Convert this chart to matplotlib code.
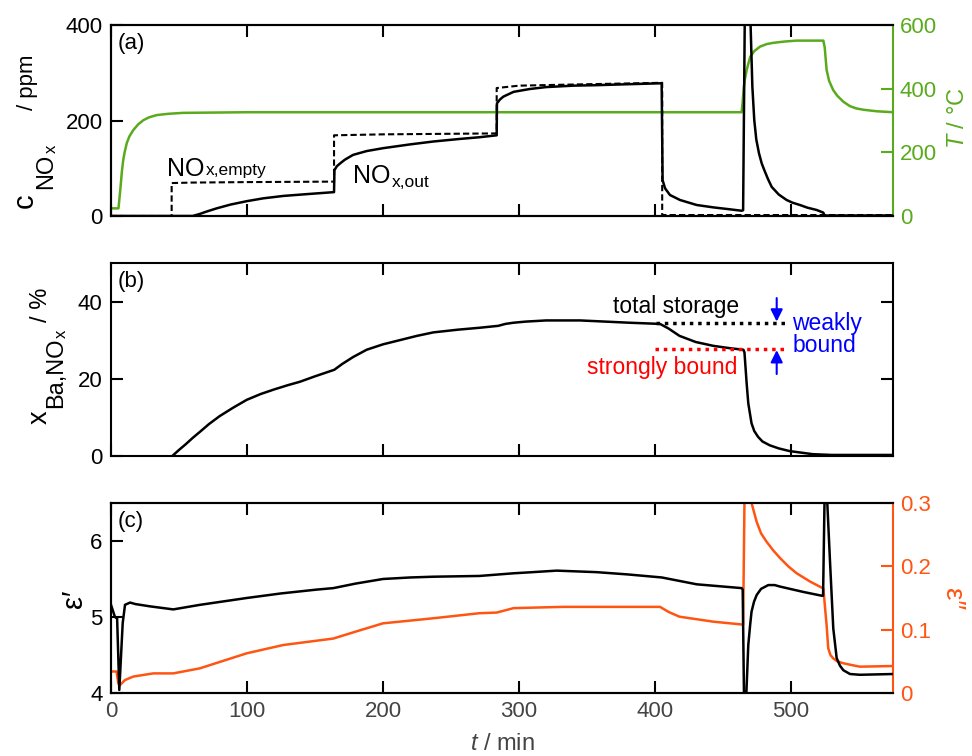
import numpy as np
import matplotlib
matplotlib.use('Agg')
import matplotlib.pyplot as plt

# ---- data ----
# (a) temperature, right axis
t_T = [0, 5.5, 7, 8, 9, 10, 11.6, 13.5, 16.4, 20, 23.8, 28, 33.6, 42, 53, 100, 463.7,
       464.5, 465.2, 466, 467.5, 470, 473, 477.2, 482, 487, 495, 504, 523.8, 524.8,
       526.2, 528, 531, 534, 538.5, 543.4, 548, 553, 563, 575]
T_C = [24, 24, 90, 140, 176, 200, 229, 250, 270, 288, 301, 310, 317, 321, 324, 326, 326,
       360, 400, 427, 460, 500, 518, 532, 540, 544, 548, 551, 551, 530,
       459, 425, 396, 378, 359, 345, 338, 334, 329, 326]

# (a) NOx empty reactor (dashed)
t_empty = [0, 44.6, 44.6, 60, 100, 164, 164, 200, 283.6, 283.6, 300, 350, 405.3, 405.3, 575]
c_empty = [0, 0, 69, 70, 71, 72, 169, 171, 173, 268, 273, 276, 279, 2, 2]

# (a) NOx outlet (solid)
t_out = [0, 60, 65, 70, 77.7, 88, 99.8, 112, 126.7, 145, 164, 164.3, 166, 168.4, 172, 178,
         188, 200, 220, 237, 255, 271, 283.6, 283.8, 286, 288.5, 296, 308, 320, 340, 357,
         380, 404.9, 405.6, 407.4, 411, 418.4, 430.7, 443, 455, 463.7, 464.8, 467.2, 470.3,
         471.6, 473, 474.5, 476.5, 478.5, 480.4, 483, 485.8, 491, 496.8, 501, 506.6, 512,
         518.9, 523.8, 524.6, 540, 575]
c_out = [0, 0, 4, 9, 16, 24, 31, 37, 42, 46, 50, 96, 104, 110, 118, 128,
         136, 142, 150, 156, 161, 165, 169, 236, 244, 250, 260, 266, 270, 273, 274,
         276, 278, 75, 58, 44, 33.5, 23, 18, 14, 11, 12, 800, 400,
         271, 201, 160, 131, 110, 96, 78, 61, 45, 33.5, 28, 23, 17.5,
         12.6, 7, 1, 1, 1]

# (b) NOx storage on Ba
t_x = [45.3, 50, 55, 60, 65.4, 72, 80, 90, 99.8, 110, 120, 130, 139, 150, 164.2, 170, 178,
       188, 200, 212.5, 225, 237, 255, 271, 284.8, 290, 295.8, 305, 320, 345, 381.6, 403.7,
       410, 418, 430, 443, 455, 465, 465.8, 467.4, 468.6, 471, 473, 475.8, 479, 484.4, 491,
       499, 516, 530, 575]
x_st = [0, 1.5, 3, 4.6, 6.2, 8.2, 10.3, 12.5, 14.5, 16, 17.2, 18.3, 19.2, 20.6, 22.3, 23.8,
        25.6, 27.5, 28.9, 30, 31.1, 32, 32.7, 33.2, 33.7, 34.2, 34.5, 34.8, 35.1, 35.1, 34.5,
        34.2, 33, 31.1, 29.5, 28.5, 27.9, 27.5, 26.8, 18.8, 13.6, 8.4, 6.4, 4.9, 3.7, 2.7,
        1.9, 1.2, 0.4, 0.2, 0.2]
total_storage = 34.4
strongly_bound = 27.7

# (c) permittivity, real part (left) and imaginary part (right)
t_e1 = [0, 2.9, 4.5, 6.1, 8.6, 10.3, 14, 18, 28.7, 45.8, 65.4, 99.8, 125, 151, 163.5, 180,
        200, 220, 237, 271, 296, 310, 327.7, 357, 380, 405, 430.7, 463.7, 464.5, 465.9,
        467.2, 468.6, 470, 471, 472.8, 474.8, 478, 483.3, 488, 492, 509, 522.6, 523.6,
        525.4, 526.7, 528.7, 531.1, 533.6, 536, 538.5, 543.4, 550.7, 575]
eps1 = [5.16, 5.0, 4.98, 4.04, 4.92, 5.16, 5.19, 5.17, 5.14, 5.10, 5.16, 5.25, 5.31, 5.36,
        5.38, 5.44, 5.50, 5.52, 5.53, 5.54, 5.575, 5.59, 5.61, 5.59, 5.56, 5.52, 5.43, 5.38,
        5.36, 3.3, 4.0, 4.63, 4.9, 5.07, 5.2, 5.29, 5.37, 5.42, 5.42, 5.40, 5.33, 5.28,
        5.28, 7.4, 6.5, 5.73, 4.85, 4.46, 4.36, 4.30, 4.25, 4.24, 4.25]

t_e2 = [0, 4.1, 5.4, 6.6, 10.3, 16.4, 31.1, 45.8, 65.4, 99.8, 126.7, 163.5, 180, 200, 237,
        271, 283.6, 296, 332.6, 403.7, 410, 418, 443, 464.8, 466, 471, 474.8, 478, 482, 487,
        492, 498, 504.2, 514, 523.8, 526.2, 527.4, 529, 531, 534, 538.5, 545, 550.7, 575]
eps2 = [0.034, 0.034, 0.015, 0.0126, 0.0205, 0.026, 0.031, 0.031, 0.039, 0.0627, 0.0758,
        0.086, 0.097, 0.110, 0.118, 0.126, 0.127, 0.134, 0.136, 0.136, 0.128, 0.1205,
        0.1126, 0.108, 0.34, 0.30, 0.270, 0.252, 0.239, 0.225, 0.213, 0.200, 0.189, 0.176,
        0.165, 0.107, 0.0706, 0.060, 0.0548, 0.050, 0.047, 0.044, 0.0416, 0.0426]

GREEN = '#5AAA1E'
ORANGE = '#FF5512'
GRAY = '#444444'
FW, FH = 972, 756

plt.rcParams['font.family'] = ['Liberation Sans', 'DejaVu Sans']
plt.rcParams['font.size'] = 16
plt.rcParams['mathtext.fontset'] = 'custom'
plt.rcParams['mathtext.rm'] = 'Liberation Sans'
plt.rcParams['mathtext.it'] = 'Liberation Sans:italic'
plt.rcParams['mathtext.bf'] = 'Liberation Sans:bold'
plt.rcParams['axes.linewidth'] = 1.5


def style(ax, right=True):
    ax.tick_params(which='major', direction='in', length=8.5, width=1.5,
                   top=True, right=right, pad=6, labelsize=16)
    ax.set_xlim(0, 575)
    ax.set_xticks([0, 100, 200, 300, 400, 500])


def vlabel(pieces, color='black'):
    # rotated label built from pieces: (text, size, baseline x px, start y px)
    for s, size, xb, y0 in pieces:
        fig.text(xb / FW, 1 - y0 / FH, s, fontsize=size, rotation=90,
                 rotation_mode='anchor', ha='left', va='baseline', color=color)


def sublabel(ax, x, y, main, sub, dy, size=18, subsize=12.5):
    ax.text(x, y, main, fontsize=size, ha='left', va='baseline')
    ax.annotate(sub, xy=(x, y), xytext=(28, dy), textcoords='offset points',
                fontsize=subsize, ha='left', va='baseline')


fig = plt.figure(figsize=(9.72, 7.56), dpi=100)
L, W = 0.1142, 0.8045
ax_a = fig.add_axes([L, 0.7143, W, 0.2526])
ax_b = fig.add_axes([L, 0.3972, W, 0.2549])
ax_c = fig.add_axes([L, 0.0833, W, 0.2514])

# ---- (a) ----
style(ax_a, right=False)
ax_a.plot(t_empty, c_empty, color='black', lw=1.5, ls=(0, (3, 1.5)))
ax_a.plot(t_out, c_out, color='black', lw=1.8)
ax_a.set_ylim(0, 400)
ax_a.set_yticks([0, 200, 400])
ax_a.tick_params(labelbottom=False)
ax_a.spines['right'].set_visible(False)
ax_T = ax_a.twinx()
ax_T.plot(t_T, T_C, color=GREEN, lw=1.8)
ax_T.set_ylim(0, 600)
ax_T.set_yticks([0, 200, 400, 600])
ax_T.tick_params(direction='in', length=8.5, width=1.5, colors=GREEN, pad=5, labelsize=16)
ax_T.spines['right'].set_color(GREEN)
ax_T.set_xlim(0, 575)
ax_a.set_zorder(ax_T.get_zorder() + 1)
ax_a.patch.set_visible(False)
ax_a.text(0.009, 0.96, '(a)', transform=ax_a.transAxes, ha='left', va='top')
sublabel(ax_a, 41, 84, 'NO', 'x,empty', dy=0.5)
sublabel(ax_a, 177.7, 68.5, 'NO', 'x,out', dy=-3)
vlabel([('c', 21, 33, 208), ('NO', 17, 52, 189), ('x', 12, 56, 153), ('/ ppm', 16, 33, 110)])
ax_T.text(1.083, 0.513, r'$T$ / °C', transform=ax_T.transAxes, rotation=90,
          ha='center', va='center', color=GREEN, fontsize=17)

# ---- (b) ----
style(ax_b)
ax_b.plot(t_x, x_st, color='black', lw=1.8)
ax_b.set_ylim(0, 50)
ax_b.set_yticks([0, 20, 40])
ax_b.tick_params(labelbottom=False)
ax_b.plot([400.7, 495.6], [total_storage, total_storage], color='black', lw=2.5,
          ls=(0, (1, 1.4)))
ax_b.plot([400, 495.6], [strongly_bound, strongly_bound], color='red', lw=2.5,
          ls=(0, (1, 1.4)))
ax_b.annotate('', xy=(489.5, 34.8), xytext=(489.5, 40.9),
              arrowprops=dict(arrowstyle='-|>', color='blue', lw=1.5,
                              mutation_scale=18, shrinkA=0, shrinkB=0))
ax_b.annotate('', xy=(489.5, 27.4), xytext=(489.5, 21.2),
              arrowprops=dict(arrowstyle='-|>', color='blue', lw=1.5,
                              mutation_scale=18, shrinkA=0, shrinkB=0))
ax_b.text(369.4, 37.1, 'total storage', fontsize=16.5, ha='left', va='baseline')
ax_b.text(350, 21.2, 'strongly bound', fontsize=16.5, ha='left', va='baseline', color='red')
ax_b.text(501, 32.6, 'weakly', fontsize=16.5, ha='left', va='baseline', color='blue')
ax_b.text(501, 27.0, 'bound', fontsize=16.5, ha='left', va='baseline', color='blue')
ax_b.text(0.009, 0.96, '(b)', transform=ax_b.transAxes, ha='left', va='top')
vlabel([('x', 19.5, 47, 424), ('Ba,NO', 17, 62, 408), ('x', 12, 66, 338), ('/ %', 17, 47, 322)])

# ---- (c) ----
style(ax_c, right=False)
ax_c.plot(t_e1, eps1, color='black', lw=1.8)
ax_c.set_ylim(4, 6.5)
ax_c.set_yticks([4, 5, 6])
ax_c.tick_params(axis='x', labelcolor=GRAY)
ax_c.spines['right'].set_visible(False)
ax_e2 = ax_c.twinx()
ax_e2.plot(t_e2, eps2, color=ORANGE, lw=1.8)
ax_e2.set_ylim(0, 0.3)
ax_e2.set_yticks([0, 0.1, 0.2, 0.3])
ax_e2.set_yticklabels(['0', '0.1', '0.2', '0.3'])
ax_e2.tick_params(direction='in', length=8.5, width=1.5, colors=ORANGE, pad=5, labelsize=16)
ax_e2.spines['right'].set_color(ORANGE)
ax_e2.set_xlim(0, 575)
ax_c.set_zorder(ax_e2.get_zorder() + 1)
ax_c.patch.set_visible(False)
ax_c.text(0.009, 0.96, '(c)', transform=ax_c.transAxes, ha='left', va='top')
vlabel([('ε′', 21, 82, 608)])
ax_e2.text(1.075, 0.495, 'ε″', transform=ax_e2.transAxes, rotation=-90,
           ha='center', va='center', color=ORANGE, fontsize=20)
ax_c.set_xlabel(r'$t$ / min', color=GRAY, fontsize=17, labelpad=8)

fig.savefig('out.png', dpi=100, facecolor='white')
